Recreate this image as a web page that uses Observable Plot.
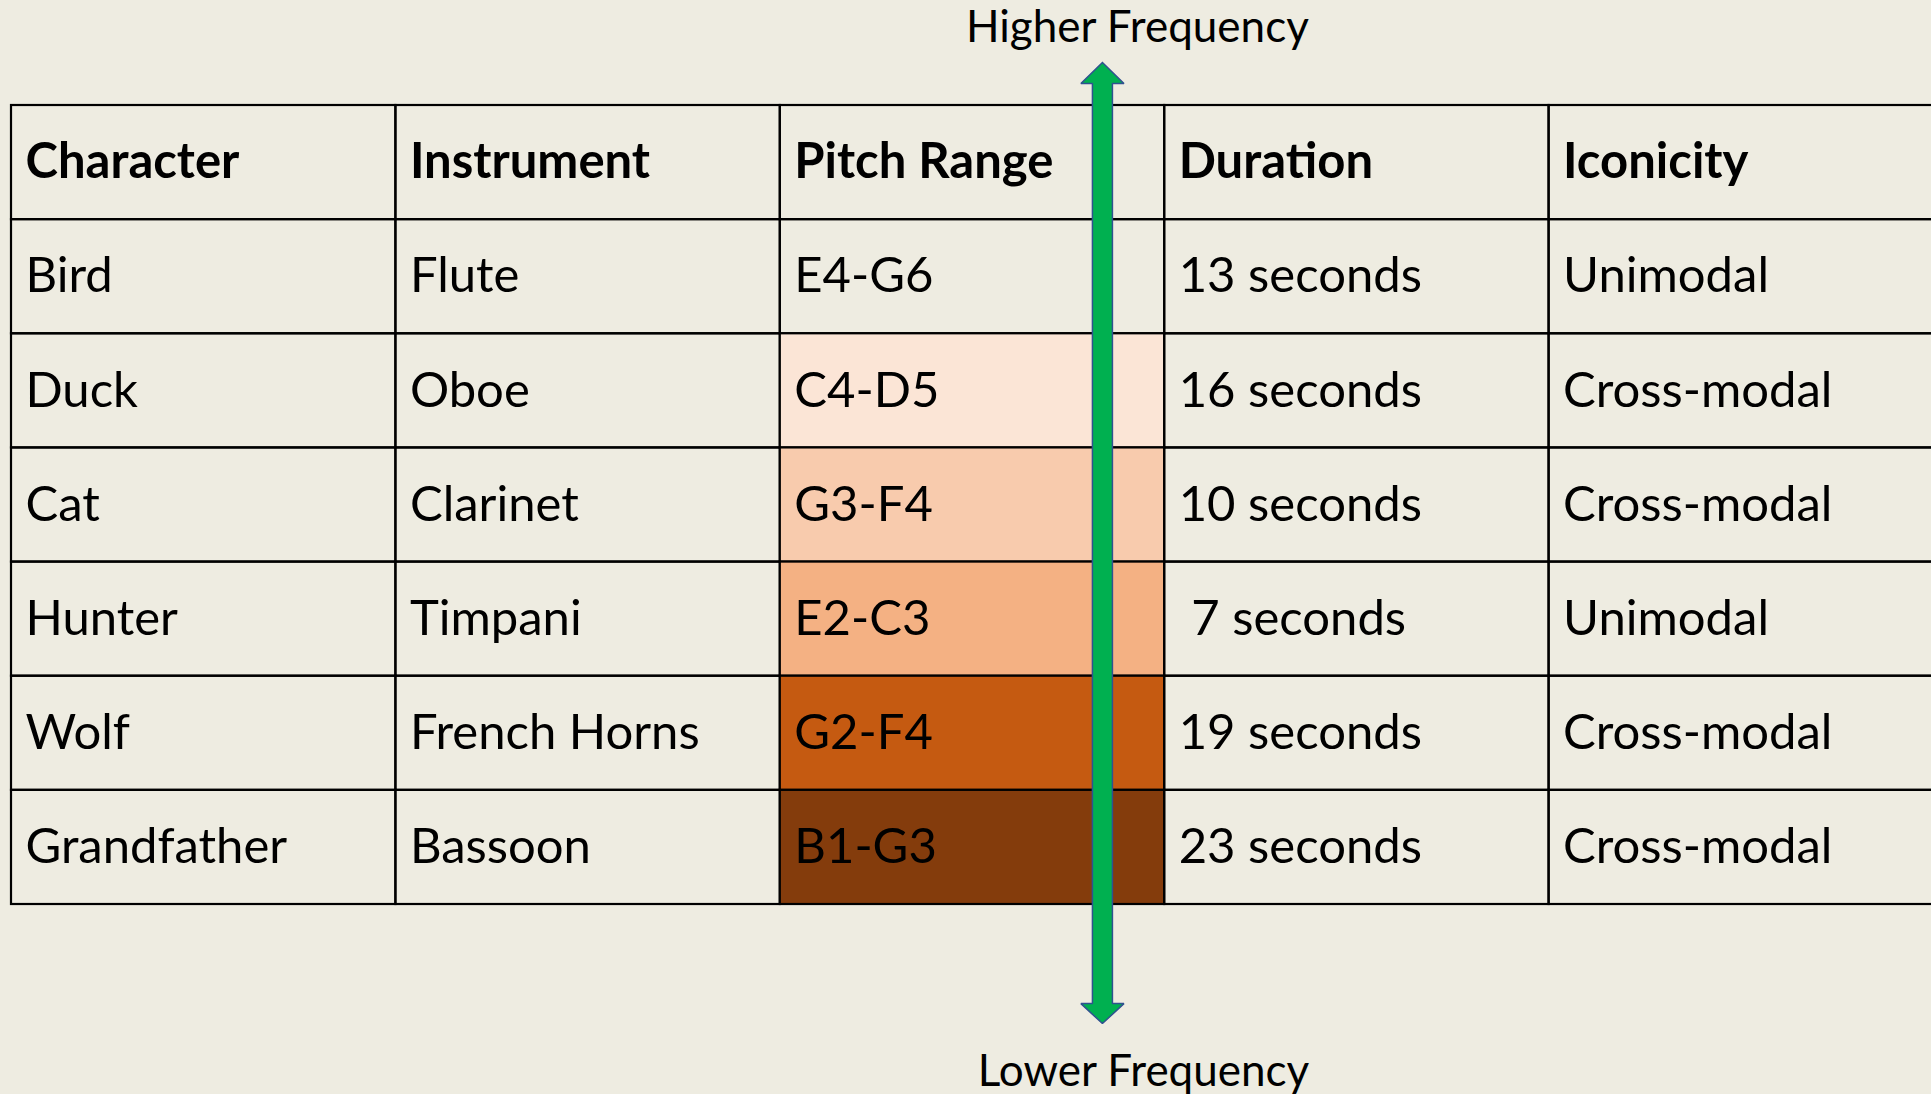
<!DOCTYPE html>
<html>
<head>
<meta charset="utf-8">
<script src="https://cdn.jsdelivr.net/npm/d3@7"></script>
<script src="https://cdn.jsdelivr.net/npm/@observablehq/plot@0.6"></script>
<style>
  html, body { margin: 0; padding: 0; background: #eeece1; overflow: hidden; }
  svg text { white-space: pre; }
</style>
</head>
<body>
<div id="chart"></div>
<script>
// ---- data ----
const headers = ["Character", "Instrument", "Pitch Range", "Duration", "Iconicity"];
const characters = ["Bird", "Duck", "Cat", "Hunter", "Wolf", "Grandfather"];
const instruments = ["Flute", "Oboe", "Clarinet", "Timpani", "French Horns", "Bassoon"];
const pitchRanges = ["E4-G6", "C4-D5", "G3-F4", "E2-C3", "G2-F4", "B1-G3"];
const durations = ["13 seconds", "16 seconds", "10 seconds", " 7 seconds", "19 seconds", "23 seconds"];
const iconicity = ["Unimodal", "Cross-modal", "Cross-modal", "Unimodal", "Cross-modal", "Cross-modal"];
const pitchShades = ["none", "#fbe5d6", "#f8cbad", "#f4b183", "#c55a11", "#843c0c"];
const frequencyLabels = ["Higher Frequency", "Lower Frequency"];

// ---- layout / style ----
const W = 1931, H = 1094;
const BG = "#eeece1";
const FONT = "Lato, 'Open Sans', sans-serif";
const nCols = headers.length, nRows = characters.length + 1;

// table cells: row 0 = header
const columns = [characters, instruments, pitchRanges, durations, iconicity];
const cells = [];
headers.forEach((h, c) => cells.push({r: 0, c, text: h, bold: true, fill: "none"}));
characters.forEach((_, i) => {
  columns.forEach((col, c) => {
    cells.push({r: i + 1, c, text: col[i], bold: false, fill: c === 2 ? pitchShades[i] : "none"});
  });
});

// double-headed frequency arrow inside the Pitch Range column (data units: columns / rows)
const arrow = {x: 2.838, shaft: 0.026, head: 0.056, tipTop: -0.377, baseTop: -0.193, baseBottom: 7.868, tipBottom: 8.043};
const arrowPoly = [
  [arrow.x, arrow.tipTop],
  [arrow.x + arrow.head, arrow.baseTop],
  [arrow.x + arrow.shaft, arrow.baseTop],
  [arrow.x + arrow.shaft, arrow.baseBottom],
  [arrow.x + arrow.head, arrow.baseBottom],
  [arrow.x, arrow.tipBottom],
  [arrow.x - arrow.head, arrow.baseBottom],
  [arrow.x - arrow.shaft, arrow.baseBottom],
  [arrow.x - arrow.shaft, arrow.baseTop],
  [arrow.x - arrow.head, arrow.baseTop],
  [arrow.x, arrow.tipTop]
].map(([x, y]) => ({x, y}));

const labels = [
  {text: frequencyLabels[0], x: 2.929, y: -0.552},
  {text: frequencyLabels[1], x: 2.945, y: 8.586}
];

const chart = Plot.plot({
  width: W,
  height: H,
  x: {domain: [0, nCols], range: [11, 1933], axis: null},
  y: {domain: [0, nRows], range: [105, 904], axis: null},
  color: {type: "identity"},
  style: {background: BG, fontFamily: FONT, color: "#000", overflow: "visible"},
  marks: [
    Plot.rect(cells, {
      x1: "c", x2: d => d.c + 1, y1: "r", y2: d => d.r + 1,
      fill: "fill", stroke: "#000", strokeWidth: 2.2
    }),
    Plot.text(cells.filter(d => !d.bold), {
      x: "c", y: d => d.r + 0.5, text: "text", dx: 14,
      textAnchor: "start", lineAnchor: "middle",
      fontSize: 49, fill: "#000"
    }),
    Plot.text(cells.filter(d => d.bold), {
      x: "c", y: d => d.r + 0.5, text: "text", dx: 14,
      textAnchor: "start", lineAnchor: "middle",
      fontSize: 49, fontWeight: "bold", fill: "#000"
    }),
    Plot.line(arrowPoly, {
      x: "x", y: "y", curve: "linear",
      fill: "#00b050", stroke: "#2f528f", strokeWidth: 1.5, strokeLinejoin: "miter"
    }),
    Plot.text(labels, {
      x: "x", y: "y", text: "text", textAnchor: "middle", lineAnchor: "bottom",
      fontSize: 44, fill: "#000"
    })
  ]
});
document.getElementById("chart").appendChild(chart);
</script>
</body>
</html>
